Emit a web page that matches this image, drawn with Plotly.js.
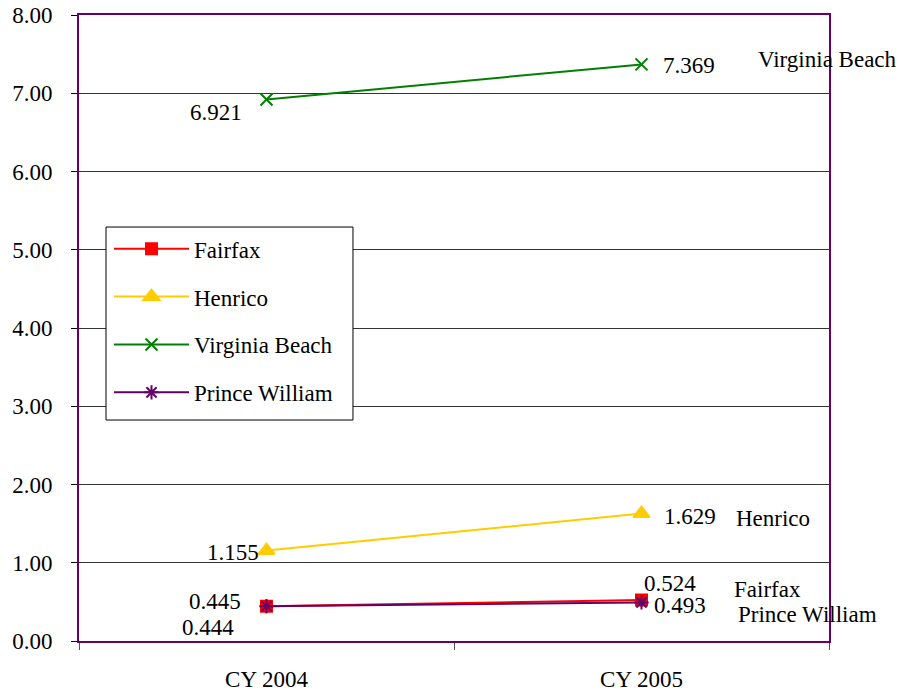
<!DOCTYPE html>
<html>
<head>
<meta charset="utf-8">
<script src="https://cdn.plot.ly/plotly-3.0.1.min.js"></script>
<style>html,body{margin:0;padding:0;background:#fff;}#chart{width:900px;height:696px;}</style>
</head>
<body>
<div id="chart"></div>
<script>
// ---- data ----
const years = ["CY 2004", "CY 2005"];
const fairfax = [0.445, 0.524];
const henrico = [1.155, 1.629];
const virginiaBeach = [6.921, 7.369];
const princeWilliam = [0.444, 0.493];
const seriesNames = ["Fairfax", "Henrico", "Virginia Beach", "Prince William"];
const yTicks = [0, 1, 2, 3, 4, 5, 6, 7, 8];

// ---- styles ----
const FONT = "Liberation Serif";
const FS = 23;
const PURPLE = "#660066";
const series = [
  {name: seriesNames[0], y: fairfax, color: "#FF0000", symbol: "square", size: 11, lw: 2},
  {name: seriesNames[1], y: henrico, color: "#FFCC00", symbol: "triangle-up", size: 14, lw: 2},
  {name: seriesNames[2], y: virginiaBeach, color: "#008000", symbol: "x-thin-open", size: 12, lw: 2},
  {name: seriesNames[3], y: princeWilliam, color: PURPLE, symbol: "asterisk-open", size: 12, lw: 2}
];

const traces = series.map((s, i) => ({
  type: "scatter", mode: "lines+markers", name: s.name,
  x: years, y: s.y, legendgroup: "g" + i,
  line: {color: s.color, width: s.lw},
  marker: {color: s.color, symbol: s.symbol, size: s.size, line: {color: s.color, width: 2}}
}));

// value label offsets (pixels) per series per point: [xanchor, xshift, yshift]
const valueOffsets = [
  [["right", -24, 5], ["left", 0, 17]],     // Fairfax
  [["right", -6, -2], ["left", 20, -3]],    // Henrico
  [["right", -23, -13], ["left", 19, -1]],  // Virginia Beach
  [["right", -31, -21], ["left", 10, -3]]   // Prince William
];
// series name label offsets, relative to the last point
const nameOffsets = [[90, 11], [92, -5], [114, 5], [94, -12]];

const annotations = [];
series.forEach((s, i) => {
  s.y.forEach((v, j) => {
    const o = valueOffsets[i][j];
    annotations.push({
      x: j, y: v, xref: "x", yref: "y", text: v.toFixed(3), showarrow: false,
      xanchor: o[0], yanchor: "middle", xshift: o[1], yshift: o[2],
      font: {family: FONT, size: FS, color: "#000"}
    });
  });
  const last = s.y.length - 1;
  annotations.push({
    x: last, y: s.y[last], xref: "x", yref: "y", text: s.name, showarrow: false,
    xanchor: "left", yanchor: "middle", xshift: nameOffsets[i][0], yshift: nameOffsets[i][1],
    font: {family: FONT, size: FS, color: "#000"}
  });
});

const layout = {
  width: 900, height: 696,
  margin: {l: 79, r: 71, t: 15, b: 55},
  paper_bgcolor: "#fff", plot_bgcolor: "#fff",
  font: {family: FONT, size: FS, color: "#000"},
  showlegend: true,
  legend: {
    x: 0.04, y: 0.661, xanchor: "left", yanchor: "top",
    bgcolor: "rgba(0,0,0,0)", borderwidth: 0,
    font: {family: FONT, size: FS, color: "#000"},
    tracegroupgap: 15, itemwidth: 75
  },
  // legend box frame
  shapes: [{
    type: "rect", xref: "paper", yref: "paper", layer: "above",
    x0: 0.036, x1: 0.3653, y0: 0.353, y1: 0.6613,
    fillcolor: "#fff", line: {color: "#000", width: 1}
  }],
  xaxis: {
    type: "category", range: [-0.5, 1.5], tickson: "boundaries",
    ticks: "outside", ticklen: 7, tickcolor: "#555", tickwidth: 1,
    showline: true, linecolor: PURPLE, linewidth: 2, mirror: true,
    showgrid: false, zeroline: false, ticklabelstandoff: 16,
    tickfont: {family: FONT, size: FS, color: "#000"}
  },
  yaxis: {
    range: [0, 8], tickvals: yTicks, ticktext: yTicks.map(v => v.toFixed(2)),
    ticks: "outside", ticklen: 6, tickcolor: "#000", tickwidth: 1,
    showline: true, linecolor: PURPLE, linewidth: 2, mirror: true,
    showgrid: true, gridcolor: "#333", gridwidth: 1, zeroline: false,
    ticklabelstandoff: 14,
    tickfont: {family: FONT, size: FS, color: "#000"}
  },
  annotations: annotations
};

Plotly.newPlot("chart", traces, layout, {displayModeBar: false, staticPlot: true});
</script>
</body>
</html>
